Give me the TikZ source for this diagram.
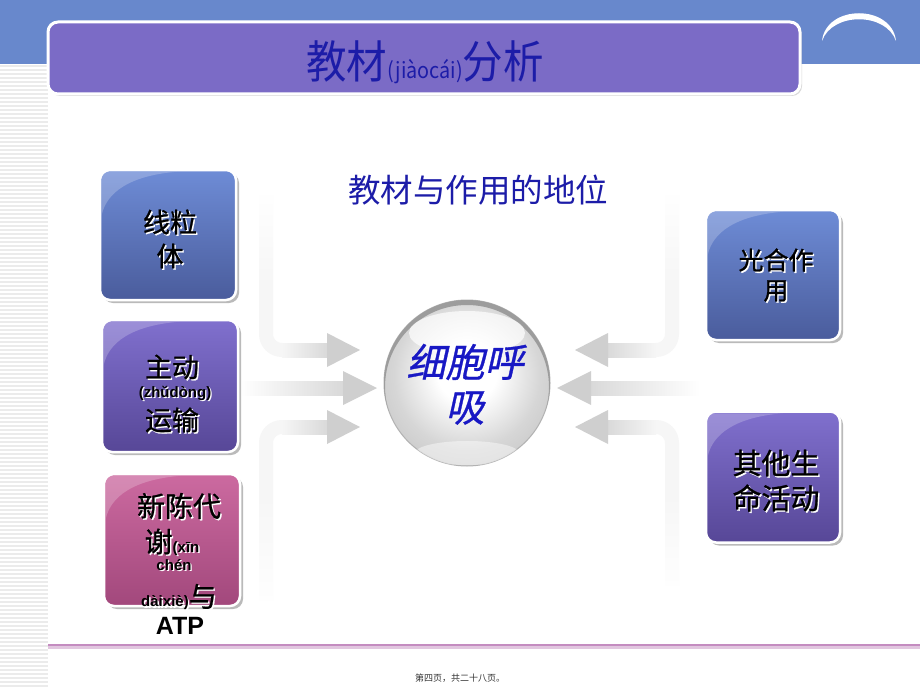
\documentclass[tikz,border=0pt]{standalone}
\usepackage{fontspec}
\setmainfont{Liberation Sans}
\newfontfamily\cjk{Noto Sans CJK SC}
\newfontfamily\cjkb[FakeBold=0.9]{Noto Sans CJK SC}
\newfontfamily\cjkt[FakeStretch=0.9]{Noto Sans CJK SC}
\newfontfamily\cjki[FakeSlant=0.22,FakeBold=0.8]{Noto Sans CJK SC}
\usetikzlibrary{calc,shadows,fadings}
\definecolor{band}{HTML}{6888CC}
\definecolor{tpurple}{HTML}{7B6BC6}
\definecolor{tblue}{HTML}{1C1CA8}
\definecolor{sblue}{HTML}{1818C4}
\definecolor{bluetop}{HTML}{6E8CD6}
\definecolor{bluebot}{HTML}{4A5C9C}
\definecolor{purtop}{HTML}{8070CE}
\definecolor{purbot}{HTML}{574797}
\definecolor{pinktop}{HTML}{CC6AA0}
\definecolor{pinkbot}{HTML}{A2487C}
\definecolor{foot}{HTML}{C48CC0}
\pgfdeclareradialshading{sph}{\pgfpoint{0bp}{4bp}}{color(0bp)=(white); color(9bp)=(white); color(22bp)=(gray!32); color(34bp)=(gray!48); color(46bp)=(gray!58); color(54bp)=(gray!66)}
\tikzset{
  box/.style={draw=white, line width=2.5pt, rounded corners=10pt, inner sep=0pt,
    drop shadow={shadow xshift=3pt, shadow yshift=-3pt, opacity=0.45, fill=black!60}},
  bluebox/.style={box, top color=bluetop, bottom color=bluebot},
  purbox/.style={box, top color=purtop, bottom color=purbot},
  pinkbox/.style={box, top color=pinktop, bottom color=pinkbot},
  shaftc/.style={line width=14pt, draw=gray!7, rounded corners=16pt},
  headc/.style={fill=gray!38},
  txt/.style={inner sep=0pt, anchor=center},
}
\newcommand\stx[4]{%
  \node[txt, text=white, font=#3] (#1s) at ($(#2)+(1.4,1.4)$) {#4};
  \node[txt, text=black, font=#3] (#1) at (#2) {#4};}
\newcommand\gloss[1]{%
  \fill[white, opacity=0.22] ($(#1.north west)+(3,46)$) -- ($(#1.north west)+(3,13)$)
    .. controls ($(#1.north west)+(3,3)$) .. ($(#1.north west)+(13,3)$)
    -- ($(#1.north west)+(78,3)$)
    .. controls ($(#1.north west)+(30,7)$) and ($(#1.north west)+(8,24)$) .. cycle;}
\begin{document}
\begin{tikzpicture}[x=1pt,y=-1pt]
\useasboundingbox (0,0) rectangle (920,690);
\fill[white] (0,0) rectangle (920,690);
% top band
\fill[band] (0,0) rectangle (920,64);
% stripes
\foreach \yy in {66,70,...,688} \draw[gray!16, line width=1.6pt] (0,\yy) -- (48,\yy);
% crescent
\fill[white] (822,41) .. controls (826,4) and (892,4) .. (896,41)
  .. controls (886,12) and (832,12) .. (822,41) -- cycle;
% title box
\node[draw=white, line width=3pt, rounded corners=10pt, fill=tpurple, minimum width=752pt, minimum height=72pt,
  drop shadow={shadow xshift=2pt, shadow yshift=-2pt, opacity=0.3, fill=black!50}] (tbox) at (424,58) {};
\node[txt, text=tblue] (title) at (425,62) {\cjkt\fontsize{45}{48}\selectfont 教材{\fontsize{22}{24}\selectfont(jiàocái)}分析};
% subtitle
\node[txt, text=tblue] (sub) at (478,190) {\cjk\fontsize{32.5}{34}\selectfont 教材与作用的地位};
% footer
\draw[foot!50, line width=3pt] (48,647) -- (920,647);
\draw[foot, line width=1.3pt] (48,645) -- (920,645);
\node[txt, text=black!80] (foot) at (460,678) {\cjk\fontsize{9}{10}\selectfont 第四页，共二十八页。};

% arrows left
\draw[shaftc] (266,195) -- (266,350) -- (330,350);
\fill[left color=gray!7, right color=gray!30] (282,343) rectangle (328,357);
\fill[headc] (327,333) -- (360,350) -- (327,367) -- cycle;
\fill[left color=white, right color=gray!30] (240,381) rectangle (344,395);
\fill[headc] (343,371) -- (377,388) -- (343,405) -- cycle;
\draw[shaftc] (266,600) -- (266,427) -- (330,427);
\fill[left color=gray!7, right color=gray!30] (282,420) rectangle (328,434);
\fill[headc] (327,410) -- (360,427) -- (327,444) -- cycle;
% arrows right
\draw[shaftc] (672,195) -- (672,350) -- (606,350);
\fill[left color=gray!30, right color=gray!7] (607,343) rectangle (656,357);
\fill[headc] (608,333) -- (575,350) -- (608,367) -- cycle;
\fill[left color=gray!30, right color=white] (590,381) rectangle (700,395);
\fill[headc] (591,371) -- (557,388) -- (591,405) -- cycle;
\draw[shaftc] (672,585) -- (672,427) -- (606,427);
\fill[left color=gray!30, right color=gray!7] (607,420) rectangle (656,434);
\fill[headc] (608,410) -- (575,427) -- (608,444) -- cycle;
% fade the far ends of the vertical shafts
\fill[white, path fading=south] (256,193) rectangle (276,290);
\fill[white, path fading=north] (256,490) rectangle (276,608);
\fill[white, path fading=south] (662,193) rectangle (682,290);
\fill[white, path fading=north] (662,490) rectangle (682,592);

% sphere
\node[circle, minimum size=166pt, inner sep=0pt, shading=sph, draw=gray!60, line width=1pt] (sph) at (467,383) {};
\begin{scope}
  \clip (sph.center) circle [radius=83];
  \draw[gray!78, line width=6pt] ($(sph.center)+(0,4)$) circle [radius=85];
  \fill[white, opacity=0.7] ($(sph.center)+(0,-50)$) ellipse [x radius=58, y radius=22];
  \fill[white, opacity=0.45] ($(sph.center)+(0,70)$) ellipse [x radius=52, y radius=12];
\end{scope}
\node[txt, text=sblue] (s1) at (465,362) {\cjki\fontsize{39}{40}\selectfont 细胞呼};
\node[txt, text=sblue] (s2) at (465,408) {\cjki\fontsize{39}{40}\selectfont 吸};

% boxes
\node[bluebox, minimum width=136pt, minimum height=130pt] (b1) at (168,235) {};
\gloss{b1}
\node[purbox, minimum width=136pt, minimum height=132pt] (b2) at (170,386) {};
\gloss{b2}
\node[pinkbox, minimum width=136pt, minimum height=132pt] (b3) at (172,540) {};
\gloss{b3}
\node[bluebox, minimum width=134pt, minimum height=130pt] (b4) at (773,275) {};
\gloss{b4}
\node[purbox, minimum width=134pt, minimum height=131pt] (b5) at (773,477) {};
\gloss{b5}

% box texts
\stx{t11}{170,222}{\cjkb\fontsize{27}{30}\selectfont}{线粒}
\stx{t12}{170,256}{\cjkb\fontsize{27}{30}\selectfont}{体}
\stx{t21}{172,367}{\cjkb\fontsize{27}{30}\selectfont}{主动}
\stx{t22}{175,393}{\bfseries\fontsize{15}{16}\selectfont}{(zhǔdòng)}
\stx{t23}{172,420}{\cjkb\fontsize{27}{30}\selectfont}{运输}
\stx{t31}{179,506}{\cjkb\fontsize{28}{30}\selectfont}{新陈代}
\stx{t32}{172,542}{\bfseries\fontsize{15}{16}\selectfont}{{\cjkb\mdseries\fontsize{28}{30}\selectfont 谢}(xīn}
\stx{t33}{174,565}{\bfseries\fontsize{15}{16}\selectfont}{chén}
\stx{t34}{179,597}{\bfseries\fontsize{15}{16}\selectfont}{dàixiè){\cjkb\mdseries\fontsize{28}{30}\selectfont 与}}
\node[txt, text=black, font=\bfseries\fontsize{25}{27}\selectfont] (t35) at (180,626) {ATP};
\stx{t41}{776,260}{\cjkb\fontsize{25}{28}\selectfont}{光合作}
\stx{t42}{776,291}{\cjkb\fontsize{25}{28}\selectfont}{用}
\stx{t51}{776,463}{\cjkb\fontsize{29}{32}\selectfont}{其他生}
\stx{t52}{776,498}{\cjkb\fontsize{29}{32}\selectfont}{命活动}
\end{tikzpicture}
\end{document}
